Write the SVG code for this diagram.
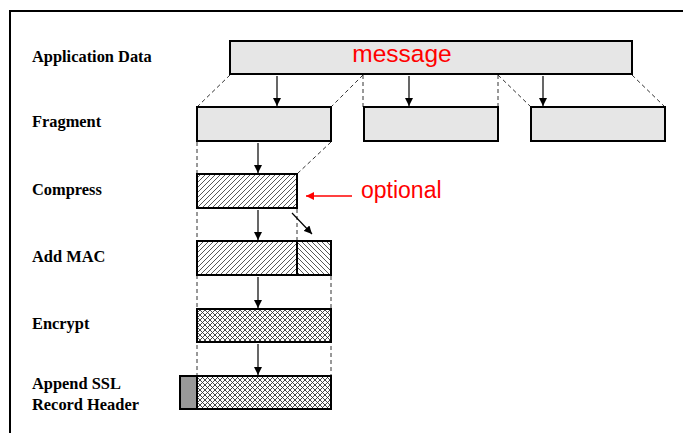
<svg xmlns="http://www.w3.org/2000/svg" width="683" height="433" viewBox="0 0 683 433">
<style>
.lbl{font-family:"Liberation Serif",serif;font-weight:bold;font-size:16.4px;fill:#000}
.box{stroke:#000;stroke-width:2}
.plain{fill:#e6e6e6}
.dash{stroke:#333;stroke-width:1;stroke-dasharray:4,3;fill:none}
.arr{stroke:#000;stroke-width:1.2;fill:none;marker-end:url(#ah)}
.red{font-family:"Liberation Sans",Arial,sans-serif;fill:#ff0000}
</style>
<defs>
<marker id="ah" viewBox="0 0 10 10" refX="10" refY="5" markerWidth="8" markerHeight="8" markerUnits="userSpaceOnUse" orient="auto">
<path d="M0,0 L10,5 L0,10 z" fill="#000"/>
</marker>
<marker id="ahr" viewBox="0 0 10 10" refX="10" refY="5" markerWidth="9" markerHeight="8" markerUnits="userSpaceOnUse" orient="auto">
<path d="M0,0 L10,5 L0,10 z" fill="#ff0000"/>
</marker>
<pattern id="fwd" patternUnits="userSpaceOnUse" width="5" height="5">
<rect width="5" height="5" fill="#fff"/>
<path d="M0,5 L5,0 M-1,1 L1,-1 M4,6 L6,4" stroke="#444" stroke-width="0.9"/>
</pattern>
<pattern id="bwd" patternUnits="userSpaceOnUse" width="5" height="5">
<rect width="5" height="5" fill="#fff"/>
<path d="M0,0 L5,5 M-1,4 L1,6 M4,-1 L6,1" stroke="#444" stroke-width="0.9"/>
</pattern>
<pattern id="cross" patternUnits="userSpaceOnUse" width="5" height="5">
<rect width="5" height="5" fill="#fff"/>
<path d="M0,5 L5,0 M-1,1 L1,-1 M4,6 L6,4 M0,0 L5,5 M-1,4 L1,6 M4,-1 L6,1" stroke="#333" stroke-width="0.9"/>
</pattern>
</defs>
<rect x="0" y="0" width="683" height="433" fill="#fff"/>
<rect x="10" y="11" width="720" height="460" fill="none" stroke="#000" stroke-width="2"/>

<g id="labels">
<text class="lbl" x="32" y="62">Application Data</text>
<text class="lbl" x="32" y="127">Fragment</text>
<text class="lbl" x="32" y="195">Compress</text>
<text class="lbl" x="32" y="262">Add MAC</text>
<text class="lbl" x="32" y="329">Encrypt</text>
<text class="lbl" x="32" y="389">Append SSL</text>
<text class="lbl" x="32" y="410">Record Header</text>
</g>

<g id="connectors">
<line class="dash" x1="230" y1="75" x2="197" y2="107"/>
<line class="dash" x1="363" y1="75" x2="331" y2="107"/>
<line class="dash" x1="363" y1="75" x2="363" y2="107"/>
<line class="dash" x1="498" y1="75" x2="498" y2="107"/>
<line class="dash" x1="498" y1="75" x2="531" y2="107"/>
<line class="dash" x1="632" y1="75" x2="665" y2="107"/>
<line class="dash" x1="197" y1="142" x2="197" y2="376"/>
<line class="dash" x1="331" y1="142" x2="297" y2="174"/>
<line class="dash" x1="297" y1="209" x2="297" y2="241"/>
<line class="dash" x1="331" y1="276" x2="331" y2="376"/>
<line class="arr" x1="277" y1="76" x2="277" y2="106"/>
<line class="arr" x1="409" y1="76" x2="409" y2="106"/>
<line class="arr" x1="543" y1="76" x2="543" y2="106"/>
<line class="arr" x1="258" y1="143" x2="258" y2="173"/>
<line class="arr" x1="258" y1="210" x2="258" y2="240"/>
<line class="arr" x1="258" y1="277" x2="258" y2="308"/>
<line class="arr" x1="258" y1="344" x2="258" y2="375"/>
<line class="arr" x1="292" y1="213" x2="312" y2="234"/>
<line x1="352" y1="196" x2="306" y2="196" stroke="#ff0000" stroke-width="1.3" marker-end="url(#ahr)"/>
</g>

<g id="message">
<rect class="box plain" x="230" y="41" width="402" height="33"/>
<text class="red" x="402" y="62" font-size="24.5" text-anchor="middle">message</text>
</g>
<g id="fragment1"><rect class="box plain" x="197" y="107" width="134" height="34"/></g>
<g id="fragment2"><rect class="box plain" x="364" y="107" width="134" height="34"/></g>
<g id="fragment3"><rect class="box plain" x="531" y="107" width="134" height="34"/></g>
<g id="compress"><rect class="box" x="197" y="174" width="100" height="34" fill="url(#fwd)"/></g>
<g id="optional"><text class="red" x="361" y="198" font-size="23">optional</text></g>
<g id="addmac">
<rect class="box" x="197" y="241" width="100" height="34" fill="url(#fwd)"/>
<rect class="box" x="297" y="241" width="34" height="34" fill="url(#bwd)"/>
</g>
<g id="encrypt"><rect class="box" x="197" y="309" width="134" height="33" fill="url(#cross)"/></g>
<g id="append">
<rect class="box" x="180" y="376" width="17" height="33" fill="#999"/>
<rect class="box" x="197" y="376" width="134" height="33" fill="url(#cross)"/>
</g>
</svg>
